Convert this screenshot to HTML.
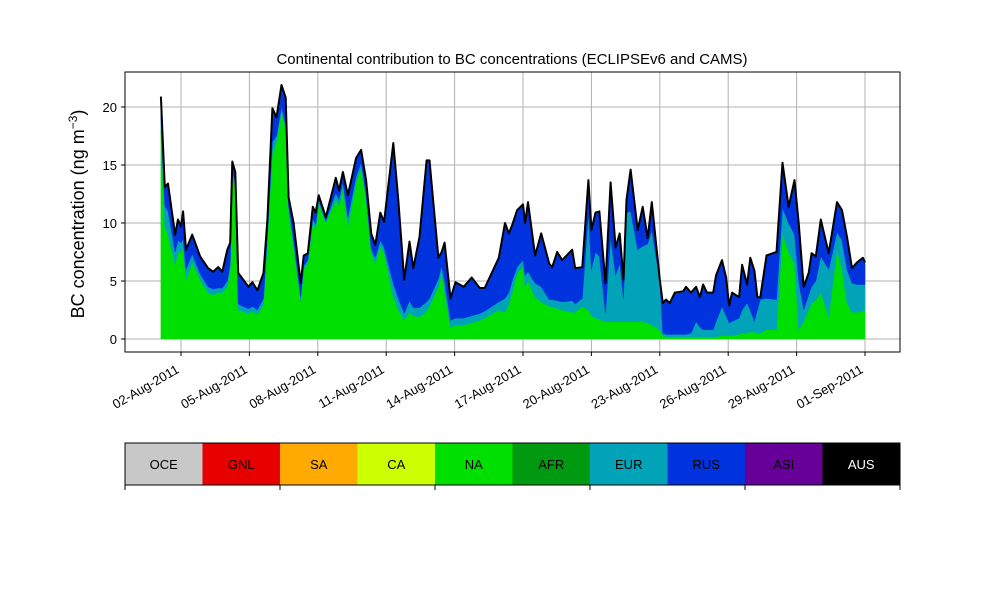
<!DOCTYPE html>
<html><head><meta charset="utf-8"><style>
body{margin:0;background:#fff;font-family:"Liberation Sans",sans-serif}
svg{display:block}
</style></head><body>
<svg id="chart" width="1000" height="600" xmlns="http://www.w3.org/2000/svg">
<text x="512" y="64" font-size="15" text-anchor="middle">Continental contribution to BC concentrations (ECLIPSEv6 and CAMS)</text>
<text transform="translate(84,214) rotate(-90)" font-size="18" text-anchor="middle">BC concentration (ng m<tspan baseline-shift="super" font-size="12">−3</tspan>)</text>
<g id="grid"></g>
<g id="areas"></g>
<g id="axes"></g>
<g id="legend"></g>
</svg>
<script>
const days=[1.12,1.29,1.43,1.74,1.87,2.00,2.09,2.22,2.49,2.84,3.19,3.41,3.63,3.81,4.03,4.16,4.25,4.38,4.51,4.96,5.13,5.35,5.62,5.79,6.01,6.19,6.41,6.59,6.72,6.94,7.25,7.38,7.56,7.78,7.91,8.04,8.35,8.79,8.93,9.10,9.32,9.68,9.90,10.12,10.34,10.52,10.74,10.91,11.31,11.53,11.79,12.02,12.19,12.46,12.77,12.90,13.29,13.43,13.56,13.82,14.04,14.40,14.75,15.10,15.32,15.94,16.21,16.38,16.52,16.74,17.00,17.09,17.22,17.53,17.80,18.15,18.28,18.50,18.72,19.16,19.29,19.60,19.87,20.00,20.18,20.35,20.62,20.84,21.06,21.24,21.41,21.54,21.72,22.03,22.25,22.47,22.65,23.00,23.13,23.27,23.44,23.66,24.02,24.15,24.37,24.59,24.76,24.90,25.07,25.34,25.47,25.73,25.91,26.04,26.17,26.48,26.61,26.83,26.97,27.15,27.28,27.41,27.68,28.12,28.38,28.65,28.91,29.09,29.31,29.53,29.66,29.84,30.06,30.41,30.77,30.99,31.21,31.43,31.65,31.91,32.0];
const total=[20.9,13.1,13.4,9.0,10.3,9.7,11.0,7.7,9.0,7.1,6.1,5.8,6.2,5.8,7.7,8.3,15.3,14.4,5.7,4.5,4.9,4.2,5.7,10.3,19.9,19.1,21.9,20.8,12.2,10.0,4.8,7.2,7.4,11.4,10.9,12.4,10.5,13.9,12.8,14.4,12.4,15.6,16.3,13.7,9.1,8.1,10.9,10.1,16.9,12.0,5.1,8.4,6.1,8.8,15.4,15.4,7.0,7.5,8.3,3.5,4.9,4.5,5.3,4.4,4.4,7.0,10.0,9.1,9.8,11.1,11.6,10.0,11.8,7.2,9.1,6.5,6.2,7.5,6.8,7.7,6.1,6.2,13.7,9.4,10.9,11.0,4.8,13.5,7.9,9.1,5.1,12.0,14.6,9.4,11.4,8.7,11.8,5.1,3.1,3.4,3.1,4.0,4.1,4.5,4.0,4.5,3.6,4.7,4.0,4.0,5.5,6.8,5.3,2.9,4.0,3.6,6.4,4.7,7.0,5.9,3.6,3.6,7.2,7.5,15.2,11.4,13.7,10.0,4.5,5.7,7.4,7.1,10.3,7.4,11.8,11.1,8.8,6.1,6.6,7.0,6.6];
const naVals=[18,9.7,9,6.4,7.5,7.5,7.9,5.1,6.6,5.1,4.0,3.8,4.0,4.0,4.5,6,14,13,2.5,2.2,2.4,2.1,3,8.5,16,17,19.6,18,11,8,3.2,6,6.5,10,9.5,11.7,10,12,11.5,13,9.7,13.5,14.8,12,7.4,6.5,8,7.4,3.6,2.5,1.6,2.3,2.0,1.9,2.4,2.8,4.5,5.8,4,1.0,1.2,1.2,1.4,1.6,1.8,2.5,2.3,3,4,5.7,6.2,4.5,5,3.6,3.2,2.8,2.8,2.6,2.5,2.3,2.3,2.8,2.5,2.0,1.8,1.7,1.5,1.5,1.5,1.5,1.5,1.5,1.5,1.5,1.5,1.4,1.2,0.8,0.3,0.2,0.2,0.2,0.2,0.2,0.2,0.2,0.2,0.2,0.2,0.2,0.2,0.3,0.3,0.3,0.3,0.4,0.5,0.5,0.6,0.6,0.5,0.5,0.8,0.8,9.1,7.5,6.5,0.8,1.5,2.5,3.1,3.3,4.0,1.9,7.7,6,3.1,2.3,2.3,2.4,2.5];
const eurTop=[19,11.5,11,7.5,8.5,8.3,8.6,6,7.3,5.6,4.5,4.3,4.4,4.4,5.0,6.5,14.5,13.5,3,2.6,2.8,2.5,3.5,9,17,17.5,20,18.5,11.5,8.5,3.6,6.3,6.8,10.4,9.9,12,10.2,12.6,12,13.5,10.5,14,15.2,12.5,7.8,7,8.5,7.9,4.8,3.5,2.2,3.3,2.7,2.7,3.2,3.5,5.2,6.3,5,1.6,1.8,1.8,2.0,2.2,2.4,3.2,3.5,4,5,6.2,6.8,5.5,5.8,4.8,4.5,3.4,3.4,3.3,3.2,3.3,3.0,3.5,10.9,6,7.5,7.1,2.2,8.8,5.5,6.5,3.5,10.9,11.0,7.7,8,8.2,9.4,5.0,0.5,0.4,0.4,0.4,0.4,0.4,0.5,1.5,1.0,0.8,0.8,0.8,1.5,2.8,2.0,1.4,1.5,1.8,2.5,3.1,2.5,1.5,2.5,3.4,3.5,3.4,11.3,10,9,5,2.5,3.8,4.5,5,7.1,6,9.2,8.5,6,4.8,4.7,4.7,4.7];
const yTicks=[0,5,10,15,20];
const xTickDays=[2,5,8,11,14,17,20,23,26,29,32];
const xTickLabels=["02-Aug-2011","05-Aug-2011","08-Aug-2011","11-Aug-2011","14-Aug-2011","17-Aug-2011","20-Aug-2011","23-Aug-2011","26-Aug-2011","29-Aug-2011","01-Sep-2011"];
const regions=["OCE","GNL","SA","CA","NA","AFR","EUR","RUS","ASI","AUS"];
const regionColors=["#c8c8c8","#e60000","#ffaa00","#ccff00","#00e000","#009a10","#00a3b8","#0033dd","#660099","#000000"];

const NS="http://www.w3.org/2000/svg";
const L=125,R=900,T=72,B=352;
const xs=d=>181+(d-2)*22.8;
const ys=v=>339-v*11.6;
function mk(tag,attrs,parent){const e=document.createElementNS(NS,tag);for(const k in attrs)e.setAttribute(k,attrs[k]);parent.appendChild(e);return e;}
const grid=document.getElementById('grid'),areas=document.getElementById('areas'),axes=document.getElementById('axes'),legend=document.getElementById('legend');
yTicks.forEach(v=>{
  const g=mk('line',{x1:L,x2:R,y1:ys(v),y2:ys(v),stroke:'#b0b0b0','stroke-width':1},grid);
  
  
  mk('line',{x1:L-4,x2:L,y1:ys(v),y2:ys(v),stroke:'#000'},axes);
  const lb=mk('text',{x:L-8,y:ys(v)+5,'font-size':13,'text-anchor':'end'},axes);
  lb.textContent=v;
  
  
});
xTickDays.forEach((d,i)=>{
  const x=xs(d);
  const g=mk('line',{x1:x,x2:x,y1:T,y2:B,stroke:'#b0b0b0'},grid);
  
  
  mk('line',{x1:x,x2:x,y1:B,y2:B+4,stroke:'#000'},axes);
  const lx=x-1,ly=B+20;
  const lb=mk('text',{x:lx,y:ly,'font-size':13,'text-anchor':'end',transform:`rotate(-30 ${lx} ${ly})`},axes);
  lb.textContent=xTickLabels[i];
  
  
});
function band(lo,hi,color,name){
  let p='';
  days.forEach((d,i)=>{p+=(i?'L':'M')+xs(d).toFixed(1)+','+ys(hi(i)).toFixed(1);});
  for(let i=days.length-1;i>=0;i--)p+='L'+xs(days[i]).toFixed(1)+','+ys(lo(i)).toFixed(1);
  const e=mk('path',{d:p+'Z',fill:color,stroke:color,'stroke-width':0.5},areas);
  
  
}
band(i=>0,i=>naVals[i],regionColors[4],'area-na');
band(i=>naVals[i],i=>eurTop[i],regionColors[6],'area-eur');
band(i=>eurTop[i],i=>total[i]-0.1,regionColors[7],'area-rus');
let tp='';days.forEach((d,i)=>{tp+=(i?'L':'M')+xs(d).toFixed(1)+','+ys(total[i]).toFixed(1);});
const tl=mk('path',{d:tp,fill:'none',stroke:'#000','stroke-width':2,'stroke-linejoin':'round'},areas);


mk('rect',{x:L,y:T,width:R-L,height:B-T,fill:'none',stroke:'#000','stroke-width':1},axes);
const bw=(R-L)/regions.length;
regions.forEach((r,i)=>{
  const x=L+i*bw;
  const rc=mk('rect',{x:x,y:443,width:bw,height:42,fill:regionColors[i]},legend);
  
  
  const t=mk('text',{x:x+bw/2,y:469,'font-size':13,'text-anchor':'middle',fill:r==='AUS'?'#fff':'#000'},legend);
  t.textContent=r;
  
  
});
mk('rect',{x:L,y:443,width:R-L,height:42,fill:'none',stroke:'#000','stroke-width':1},legend);
for(let i=0;i<=regions.length;i+=2){mk('line',{x1:L+i*bw,x2:L+i*bw,y1:485,y2:490,stroke:'#000'},legend);}
</script>
</body></html>
